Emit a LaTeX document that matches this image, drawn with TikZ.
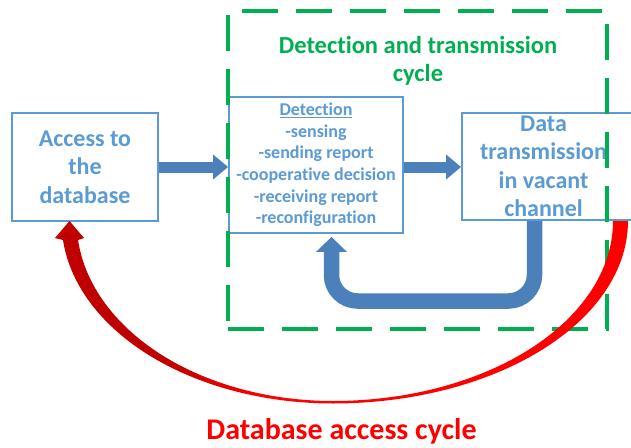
\documentclass[tikz,border=0pt]{standalone}
\usepackage{fontspec}
\setmainfont{Carlito}[Ligatures={NoCommon,NoContextual}]
\usetikzlibrary{arrows.meta}

\definecolor{boxblue}{RGB}{91,155,213}
\definecolor{arrowblue}{RGB}{76,128,186}
\definecolor{cyclegreen}{RGB}{0,176,80}
\definecolor{darkred}{RGB}{192,0,0}
\definecolor{brightred}{RGB}{255,0,0}

% dark red on the left, bright red on the right
\pgfdeclarehorizontalshading{redarc}{100bp}{color(0bp)=(darkred); color(35bp)=(darkred); color(43bp)=(brightred); color(100bp)=(brightred)}

\tikzset{
  box/.style={draw=boxblue, line width=1.8pt, inner sep=0pt},
  boxtext/.style={text=boxblue, align=center, inner sep=0pt,
    font=\bfseries\fontsize{24}{28.5}\selectfont},
  listtext/.style={text=boxblue, align=center, inner sep=0pt,
    font=\bfseries\fontsize{18}{21.6}\selectfont},
  cyclebox/.style={draw=cyclegreen, line width=3.5pt, dash pattern=on 36pt off 18pt, inner sep=0pt},
  blockarrow/.style={draw=arrowblue, line width=11pt, -{Triangle[width=24pt,length=15pt]}},
  uarrow/.style={draw=arrowblue, line width=15.5pt, rounded corners=26pt,
    -{Triangle[width=30pt,length=15pt]}},
}

\begin{document}
\begin{tikzpicture}[x=1pt,y=-1pt]
\useasboundingbox (0,0) rectangle (631,447);
\fill[white] (0,0) rectangle (631,447);

% the three stages
\node[box, minimum width=146pt, minimum height=108pt, boxtext] (access) at (85,167)
  {Access to\\the\\database};
\node[box, minimum width=174pt, minimum height=136pt, listtext] (detect) at (316,165)
  {\underline{Detection}\\-sensing\\-sending report\\-cooperative decision\\-receiving report\\-reconfiguration};
\node[box, minimum width=172pt, minimum height=107pt] (data) at (548,166.5) {};
\node[boxtext] (datatext) at (543.5,166.5) {Data\\transmission\\in vacant\\channel};

% inner cycle frame and its title
\node[cyclebox, minimum width=379pt, minimum height=318pt] (cycle) at (417.5,170) {};
\node[text=cyclegreen, align=center, inner sep=0pt,
  font=\bfseries\fontsize{24.5}{28}\selectfont] (cycletitle) at (418,61)
  {Detection and transmission\\cycle};

% forward arrows
\draw[blockarrow] (access.east) -- (access.east -| detect.west);
\draw[blockarrow] (detect.east |- access.east) -- (data.west |- access.east);

% feedback loop from transmission back to detection
\coordinate (uright) at (534.5,0);
\coordinate (uleft) at (331.5,0);
\coordinate (ubottom) at (0,301);
\draw[uarrow, shorten >=3pt] (data.south -| uright) -- (uright |- ubottom)
  -- (uleft |- ubottom) -- (uleft |- detect.south);

% outer database access arc (crescent block arrow)
\shade[shading=redarc]
  plot[domain=5.98:90, samples=60] ({333-271.5*cos(\x)},{221+182.5*sin(\x)})
  -- plot[domain=90:0, samples=60] ({333+295*cos(\x)},{221+182.5*sin(\x)})
  -- plot[domain=0:90, samples=60] ({333+280*cos(\x)},{221+180*sin(\x)})
  -- plot[domain=90:6.06, samples=60] ({333-256.4*cos(\x)},{221+180*sin(\x)})
  -- (84,238) -- (69.5,221) -- (55,238) -- cycle;

\node[text=brightred, inner sep=0pt, font=\bfseries\fontsize{30}{36}\selectfont]
  (dbcycle) at (341.5,431) {Database access cycle};
\end{tikzpicture}
\end{document}
